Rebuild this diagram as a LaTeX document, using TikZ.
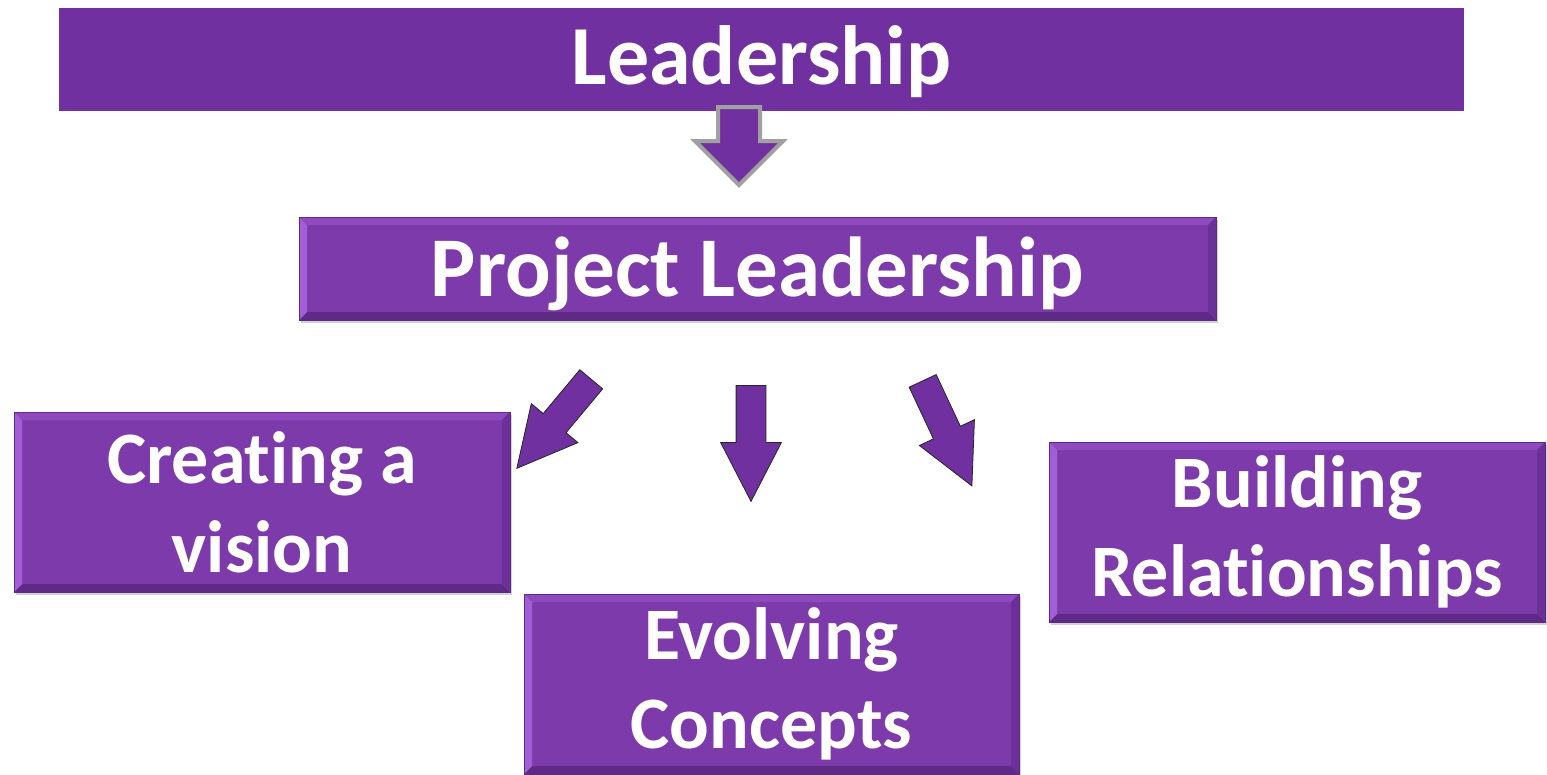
\documentclass[tikz,border=0pt]{standalone}
\usepackage{fontspec}
\usepackage{tikz}
\usetikzlibrary{shapes.arrows,shadows}
\newfontfamily\calib{Carlito}[Ligatures=NoCommon]
\definecolor{lead}{HTML}{7030A0}
\definecolor{boxfill}{HTML}{7D3AAB}
\definecolor{bevleft}{HTML}{A35ED6}
\definecolor{bevtop}{HTML}{8E4ABE}
\definecolor{bevbottom}{HTML}{5E2A86}
\definecolor{bevright}{HTML}{6C3198}
\definecolor{hollow}{HTML}{A0A0A0}
\def\bv{8pt}

\begin{document}
\begin{tikzpicture}[x=1pt,y=-1pt,
  banner/.style={fill=lead,inner sep=0pt,minimum width=1405pt,minimum height=103pt,text=white,text depth=8pt,
    font=\calib\bfseries\fontsize{84}{100}\selectfont},
  box/.style={fill=boxfill,draw=bevbottom,line width=.6pt,inner sep=0pt,text=white,align=center,
    minimum width=496pt,minimum height=180pt,font=\calib\bfseries\fontsize{74}{89}\selectfont,
    drop shadow={shadow xshift=2pt,shadow yshift=-3pt,opacity=.35},
    path picture={
      \fill[bevtop] (path picture bounding box.north west) -- (path picture bounding box.north east)
        -- ([shift={(-\bv,-\bv)}]path picture bounding box.north east)
        -- ([shift={(\bv,-\bv)}]path picture bounding box.north west) -- cycle;
      \fill[bevbottom] (path picture bounding box.south west) -- (path picture bounding box.south east)
        -- ([shift={(-\bv,\bv)}]path picture bounding box.south east)
        -- ([shift={(\bv,\bv)}]path picture bounding box.south west) -- cycle;
      \fill[bevleft] (path picture bounding box.north west) -- (path picture bounding box.south west)
        -- ([shift={(\bv,\bv)}]path picture bounding box.south west)
        -- ([shift={(\bv,-\bv)}]path picture bounding box.north west) -- cycle;
      \fill[bevright] (path picture bounding box.north east) -- (path picture bounding box.south east)
        -- ([shift={(-\bv,\bv)}]path picture bounding box.south east)
        -- ([shift={(-\bv,-\bv)}]path picture bounding box.north east) -- cycle;
    }},
  arr/.style={single arrow,anchor=tail,fill=lead,draw=black!85,line width=.8pt,inner xsep=0pt,inner ysep=14.5pt,
    minimum height=116pt,single arrow head extend=15.5pt,single arrow tip angle=54.6},
  hollowarr/.style={single arrow,anchor=tail,fill=lead,draw=hollow,line width=4pt,inner xsep=0pt,inner ysep=19pt,
    minimum height=78pt,single arrow head extend=23pt,single arrow tip angle=90}]
  \useasboundingbox[fill=white] (0,0) rectangle (1547,774);

  \node[banner] (lead) at (761.5,59.5) {Leadership};
  \node[hollowarr,rotate=-90] (down) at (739,105) {};
  \node[box,minimum width=917pt,minimum height=103pt,text depth=4pt,font=\calib\bfseries\fontsize{85}{100}\selectfont]
    (proj) at (757.5,268.5) {Project Leadership};

  % three ways down from the project box
  \node[arr,rotate=230.1] (toleft) at (591.5,379) {};
  \node[arr,rotate=-90] (tomid) at (751,385) {};
  \node[arr,rotate=-64.9] (toright) at (922.5,380.5) {};

  \node[box] (vision) at (262,502) {Creating a\\vision};
  \node[box,minimum width=495pt] (concepts) at (771.5,684) {Evolving\\Concepts};
  \node[box] (relations) at (1297,532) {Building\\Relationships};
\end{tikzpicture}
\end{document}
